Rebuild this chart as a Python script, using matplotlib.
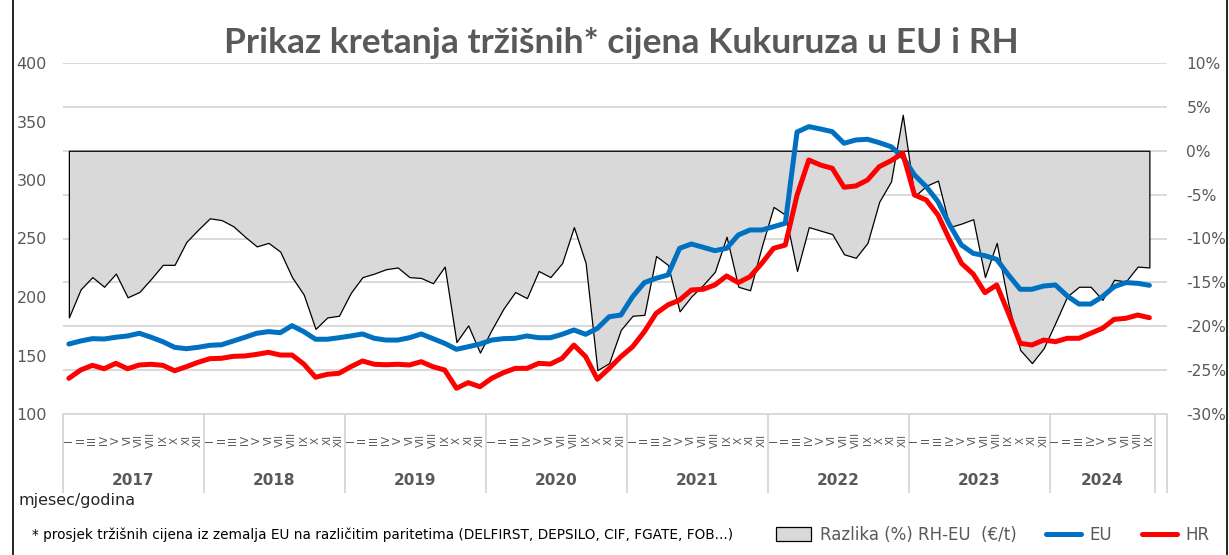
import matplotlib
matplotlib.use("Agg")
import matplotlib.pyplot as plt
import matplotlib.transforms as mtransforms
from matplotlib.lines import Line2D
import numpy as np

# --- data, Jan 2017 - Sep 2024 ---
eu = [159.8, 162.4, 164.4, 164.1, 165.6, 166.7, 169.0, 165.6, 161.8, 157.0, 155.8, 157.0,
      158.7, 159.2, 162.4, 165.6, 169.0, 170.4, 169.5, 175.5, 170.4, 163.9, 163.9, 165.2,
      166.7, 168.4, 164.7, 163.2, 163.2, 165.2, 168.4, 164.4, 160.4, 155.3, 157.5, 159.8,
      163.2, 164.4, 164.7, 166.7, 165.2, 165.2, 168.1, 171.8, 168.1, 173.2, 183.1, 184.6,
      200.3, 212.3, 216.0, 218.8, 241.6, 245.3, 242.5, 239.6, 241.6, 253.0, 257.3, 257.3,
      260.1, 263.0, 341.0, 345.6, 343.6, 341.3, 331.4, 334.2, 334.8, 331.9, 328.5, 319.9,
      304.3, 294.3, 281.5, 261.5, 244.4, 237.3, 235.3, 232.2, 218.8, 206.6, 206.6, 209.4,
      210.3, 200.9, 194.0, 194.0, 200.3, 208.8, 212.3, 211.7, 210.0]

hr = [130.5, 137.6, 141.6, 138.7, 143.3, 138.7, 141.9, 142.5, 141.6, 137.0, 140.4, 144.2,
      147.3, 147.6, 149.3, 149.6, 151.0, 152.7, 150.4, 150.4, 142.7, 131.4, 133.9, 134.8,
      140.4, 145.3, 142.5, 142.1, 142.5, 141.9, 144.7, 140.4, 137.6, 122.0, 126.8, 123.3,
      130.5, 135.3, 139.0, 139.0, 143.3, 142.7, 147.6, 158.9, 149.0, 129.7, 139.0, 149.0,
      157.5, 170.4, 186.0, 193.2, 197.4, 206.0, 206.6, 210.3, 218.0, 212.3, 217.4, 228.8,
      241.6, 244.4, 287.0, 317.1, 312.8, 310.0, 293.8, 294.9, 300.0, 311.4, 316.5, 322.8,
      287.2, 282.9, 270.1, 248.7, 228.8, 219.6, 203.7, 210.3, 186.1, 160.4, 159.0, 163.2,
      161.8, 164.7, 164.7, 169.0, 173.2, 180.9, 181.8, 184.6, 182.3]

razlika = [-19.0, -15.8, -14.4, -15.5, -14.0, -16.7, -16.1, -14.6, -13.0, -13.0, -10.4, -9.0,
           -7.7, -7.9, -8.6, -9.8, -10.9, -10.5, -11.5, -14.4, -16.4, -20.3, -19.0, -18.8,
           -16.2, -14.4, -14.0, -13.5, -13.3, -14.4, -14.5, -15.1, -13.2, -21.8, -19.9, -23.0,
           -20.4, -18.0, -16.1, -16.8, -13.7, -14.4, -12.8, -8.7, -12.8, -25.0, -24.2, -20.4,
           -18.8, -18.7, -12.0, -13.0, -18.3, -16.6, -15.3, -13.8, -9.8, -15.5, -15.9, -10.9,
           -6.4, -7.3, -13.7, -8.7, -9.1, -9.5, -11.8, -12.2, -10.5, -5.8, -3.5, 4.1,
           -5.2, -4.0, -3.4, -8.7, -8.3, -7.8, -14.4, -10.5, -17.5, -22.7, -24.2, -22.5,
           -19.6, -16.6, -15.5, -15.5, -17.0, -14.7, -14.9, -13.2, -13.3]

years = ["2017", "2018", "2019", "2020", "2021", "2022", "2023", "2024"]
months = ["I", "II", "III", "IV", "V", "VI", "VII", "VIII", "IX", "X", "XI", "XII"]
months_per_year = [12, 12, 12, 12, 12, 12, 12, 9]

GREY_TXT = "#595959"
GRID = "#d9d9d9"

fig = plt.figure(figsize=(12.29, 5.55), dpi=100)
ax2 = fig.add_axes([63 / 1229, 1 - 414 / 555, (1167 - 63) / 1229, 351 / 555])
ax = ax2.twinx()
ax.yaxis.tick_left()
ax2.yaxis.tick_right()

x = np.arange(len(eu))

# area (secondary axis) drawn behind the lines
ax2.yaxis.grid(True, color=GRID, lw=1.4)
ax2.set_axisbelow(True)
area = ax2.fill_between(x, 0, razlika, facecolor="#d9d9d9", edgecolor="black", lw=0.9, zorder=2)
ax2.set_ylim(-30, 10)
ax2.set_yticks(np.arange(-30, 11, 5))
ax2.yaxis.set_major_formatter(plt.FuncFormatter(lambda v, p: f"{v:.0f}%"))

l_eu, = ax.plot(x, eu, color="#0070C0", lw=3.6, solid_capstyle="round", solid_joinstyle="round")
l_hr, = ax.plot(x, hr, color="#FF0000", lw=3.6, solid_capstyle="round", solid_joinstyle="round")
ax.set_ylim(100, 400)
ax.set_yticks(np.arange(100, 401, 50))

ax.set_zorder(ax2.get_zorder() + 1)
ax.patch.set_visible(False)

n_cat = len(eu) + 1
ax2.set_xlim(-0.5, n_cat - 0.5)
ax.set_xlim(-0.5, n_cat - 0.5)
ax2.set_xticks([])

for a in (ax, ax2):
    for s in a.spines.values():
        s.set_visible(False)
ax2.spines["bottom"].set_visible(True)
ax2.spines["bottom"].set_color(GRID)
ax2.spines["bottom"].set_linewidth(1.4)

ax.tick_params(axis="y", length=0, pad=11.5, labelsize=11.5, labelcolor=GREY_TXT)
ax2.tick_params(axis="y", length=0, pad=14, labelsize=11.2, labelcolor=GREY_TXT)
for t in ax2.get_yticklabels():
    t.set_horizontalalignment("left")

# multi-level category axis: months + years
trans = mtransforms.blended_transform_factory(ax.transData, ax.transAxes)
start = 0
bounds = [0]
for yr, nm in zip(years, months_per_year):
    for m in range(nm):
        ax.text(start + m, -0.075, months[m], transform=trans, rotation=90,
                ha="center", va="center", fontsize=7.5, color=GREY_TXT)
    ax.text(start + (nm - 1) / 2, -0.19, yr, transform=trans, ha="center", va="center",
            fontsize=11, fontweight="bold", color=GREY_TXT)
    start += nm
    bounds.append(start)
bounds.append(n_cat)
for b in bounds:
    ax.plot([b - 0.5, b - 0.5], [-0.222, 0], transform=trans, color=GRID, lw=1.4, clip_on=False)

fig.text(621 / 1229, 1 - 43 / 555, "Prikaz kretanja tržišnih* cijena Kukuruza u EU i RH",
         ha="center", va="center", fontsize=25.5, fontweight="bold", color=GREY_TXT, family="Lato")
fig.text(18 / 1229, 1 - 500 / 555, "mjesec/godina", ha="left", va="center", fontsize=11.5, color="#262626")
fig.text(32 / 1229, 1 - 535 / 555,
         "* prosjek tržišnih cijena iz zemalja EU na različitim paritetima (DELFIRST, DEPSILO, CIF, FGATE, FOB...)",
         ha="left", va="center", fontsize=9.8, color="black")

fig.legend([area, l_eu, l_hr], ["Razlika (%) RH-EU  (€/t)", "EU", "HR"],
           loc="center left", bbox_to_anchor=(768 / 1229, 1 - 535 / 555), ncol=3, frameon=False,
           handlelength=2.1, handleheight=0.9, handletextpad=0.5, columnspacing=1.8,
           fontsize=12, labelcolor=GREY_TXT, borderpad=0)

# chart area border
fig.add_artist(Line2D([13 / 1229, 13 / 1229], [0, 1], color="black", lw=1.2))
fig.add_artist(Line2D([1227 / 1229, 1227 / 1229], [0, 1], color="black", lw=1.2))

fig.savefig("out.png", dpi=100)
